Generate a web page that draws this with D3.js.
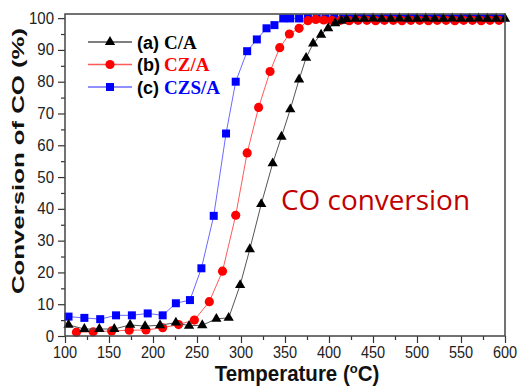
<!DOCTYPE html>
<html>
<head>
<meta charset="utf-8">
<script src="https://cdn.jsdelivr.net/npm/d3@7"></script>
<style>
body { margin: 0; background: #fff; }
svg { display: block; }
</style>
</head>
<body>
<svg id="chart" width="520" height="386"></svg>
<script>
// 数据
var tempA = [104, 122, 139, 156, 174, 191, 208, 226, 241, 256, 272, 286, 299, 310, 323, 336, 346, 356, 366, 374, 382, 391, 399, 407, 414,
  420, 430, 440, 450, 460, 470, 480, 490, 500, 510, 520, 530, 540, 550, 560, 570, 580, 590, 600];
var convA = [3.5, 2.2, 2.2, 2.2, 3.5, 3.1, 3.4, 4.2, 3.2, 3.4, 5.4, 5.7, 16, 27.3, 41.5, 54.3, 62.7, 71.3, 80.7, 87.5, 92, 94.8, 96.8, 98.4, 99.2,
  99.7, 99.8, 99.8, 99.9, 99.8, 99.8, 99.9, 99.8, 99.8, 99.9, 99.8, 99.8, 99.9, 99.8, 99.8, 99.9, 99.8, 99.8, 99.8];

var tempB = [113, 132, 153, 173, 192, 211, 229, 247, 264, 279, 294, 307, 320, 333, 344, 355, 366, 376, 385, 394,
  403, 413, 423, 433, 443, 453, 463, 473, 483, 493, 503, 513, 523, 533, 543, 553, 563, 573, 583, 593];
var convB = [1.2, 1.3, 1.6, 1.8, 1.9, 2.6, 3.6, 5.0, 10.8, 20.4, 38, 57.6, 71.9, 83.2, 90.7, 95, 96.8, 99.2, 99.6, 99.4,
  99.3, 99.3, 99.2, 99.3, 99.3, 99.2, 99.3, 99.3, 99.2, 99.3, 99.3, 99.2, 99.3, 99.3, 99.2, 99.3, 99.3, 99.2, 99.3, 99.3];

var tempC = [104, 122, 140, 158, 176, 194, 211, 226, 242, 255, 269, 283, 294, 307, 318, 329, 338, 348,
  356, 366, 376, 386, 396, 406, 416, 426, 436, 446, 456, 466, 476, 486, 496, 506, 516, 526, 536, 546, 556, 566, 576, 586, 596];
var convC = [6.1, 5.7, 5.3, 6.5, 6.5, 7.1, 6.5, 10.3, 11.3, 21.3, 37.8, 63.7, 80, 89.6, 93.3, 96.8, 97.8, 99.9,
  99.9, 99.9, 100, 99.9, 99.9, 100, 99.9, 99.9, 100, 99.9, 99.9, 100, 99.9, 99.9, 100, 99.9, 99.9, 100, 99.9, 99.9, 100, 99.9, 99.9, 100, 99.9];

var seriesNames = ["(a)", "(b)", "(c)"];
var seriesLabels = ["C/A", "CZ/A", "CZS/A"];
var xTicks = [100, 150, 200, 250, 300, 350, 400, 450, 500, 550, 600];
var yTicks = [0, 10, 20, 30, 40, 50, 60, 70, 80, 90, 100];

// 初始化
var plotL = 65, plotR = 505, plotT = 14, plotB = 336;
var svg = d3.select("#chart");
var x = d3.scaleLinear().domain([100, 600]).range([plotL, plotR]);
var y = d3.scaleLinear().domain([0, 101.3]).range([plotB, plotT]);

// 坐标轴
var xAxis = svg.append("g").attr("transform", "translate(0," + plotB + ")")
  .call(d3.axisBottom(x).tickValues(d3.range(100, 601, 25)).tickSize(4).tickFormat(""));
xAxis.selectAll(".tick line").filter(function(d) { return d % 50 === 0; }).attr("y2", 7);
var yAxis = svg.append("g").attr("transform", "translate(" + plotL + ",0)")
  .call(d3.axisLeft(y).tickValues(d3.range(0, 101, 5)).tickSize(4).tickFormat(""));
yAxis.selectAll(".tick line").filter(function(d) { return d % 10 === 0; }).attr("x2", -7);
svg.selectAll(".domain").remove();
svg.selectAll(".tick line").attr("stroke", "#333").attr("stroke-width", 1.2);

svg.append("g").selectAll("text").data(xTicks).enter().append("text")
  .attr("transform", function(d) { return "translate(" + x(d) + ",357.5) scale(1,1.2)"; })
  .attr("text-anchor", "middle").style("font-family", "Liberation Sans, Arial, sans-serif")
  .style("font-size", "14.5px").attr("fill", "#222").text(function(d) { return d; });

svg.append("g").selectAll("text").data(yTicks).enter().append("text")
  .attr("transform", function(d) { return "translate(54," + (y(d) + 5.5) + ") scale(1,1.1)"; })
  .attr("text-anchor", "end").style("font-family", "Liberation Sans, Arial, sans-serif")
  .style("font-size", "15px").attr("fill", "#222").text(function(d) { return d; });

// 标题
var xt = svg.append("text").attr("transform", "translate(297,381) scale(1,1.05)")
  .attr("text-anchor", "middle").style("font-family", "Liberation Sans, Arial, sans-serif")
  .style("font-size", "20.5px").style("font-weight", "bold").attr("fill", "#111");
xt.append("tspan").text("Temperature (");
xt.append("tspan").attr("dy", -8).style("font-size", "13px").text("o");
xt.append("tspan").attr("dy", 8).text("C)");

svg.append("text").attr("transform", "translate(23.5,161) rotate(-90)")
  .attr("text-anchor", "middle").style("font-family", "Liberation Sans, Arial, sans-serif")
  .style("font-size", "17px").style("font-weight", "bold").attr("fill", "#111")
  .attr("textLength", 266).attr("lengthAdjust", "spacingAndGlyphs")
  .text("Conversion of CO (%)");

// 曲线
var line = d3.line().x(function(d) { return x(d[0]); }).y(function(d) { return y(d[1]); });
var series = [
  { t: tempC, v: convC, line: "#6a6aff", fill: "#0000ff", sym: d3.symbolSquare, size: 64 },
  { t: tempB, v: convB, line: "#ff5a5a", fill: "#ff0000", sym: d3.symbolCircle, size: 66 },
  { t: tempA, v: convA, line: "#555", fill: "#000", sym: d3.symbolTriangle, size: 46 }
];
series.forEach(function(s) {
  var pts = s.t.map(function(t, i) { return [t, s.v[i]]; });
  svg.append("path").datum(pts).attr("d", line).attr("fill", "none")
    .attr("stroke", s.line).attr("stroke-width", 1);
  svg.append("g").selectAll("path").data(pts).enter().append("path")
    .attr("d", d3.symbol().type(s.sym).size(s.size))
    .attr("transform", function(d) { return "translate(" + x(d[0]) + "," + y(d[1]) + ")"; })
    .attr("fill", s.fill);
});

// 边框
svg.append("rect").attr("x", plotL).attr("y", plotT).attr("width", plotR - plotL).attr("height", plotB - plotT)
  .attr("fill", "none").attr("stroke", "#444").attr("stroke-width", 1.5);

// 图例
var legend = [
  { line: "#555", fill: "#000", sym: d3.symbolTriangle, size: 46, color: "#000" },
  { line: "#ff5a5a", fill: "#ff0000", sym: d3.symbolCircle, size: 66, color: "#ff0000" },
  { line: "#6a6aff", fill: "#0000ff", sym: d3.symbolSquare, size: 64, color: "#0000ff" }
];
var rowY = [42, 64.5, 87];
legend.forEach(function(l, i) {
  var g = svg.append("g").attr("transform", "translate(0," + rowY[i] + ")");
  g.append("line").attr("x1", 88).attr("x2", 132).attr("stroke", l.line).attr("stroke-width", 1.5);
  g.append("path").attr("d", d3.symbol().type(l.sym).size(l.size)).attr("transform", "translate(110,0)").attr("fill", l.fill);
  g.append("text").attr("x", 137).attr("y", 6.5).style("font-family", "Liberation Sans, Arial, sans-serif")
    .style("font-size", "18px").style("font-weight", "bold").attr("fill", "#000").text(seriesNames[i]);
  g.append("text").attr("x", 164).attr("y", 6.5).style("font-family", "Liberation Serif, Times New Roman, serif")
    .style("font-size", "19px").style("font-weight", "bold").attr("fill", l.color).text(seriesLabels[i]);
});

svg.append("text").attr("x", 281).attr("y", 210).style("font-family", "Open Sans, Lato, sans-serif")
  .style("font-size", "27px").attr("fill", "#c00000")
  .attr("textLength", 189).attr("lengthAdjust", "spacingAndGlyphs").text("CO conversion");
</script>
</body>
</html>
